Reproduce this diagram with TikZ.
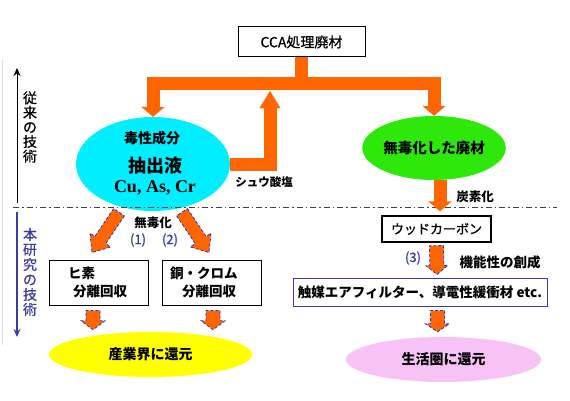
\documentclass[tikz,border=0pt]{standalone}
\usepackage{fontspec}
\setmainfont{Noto Sans CJK JP}
\newfontfamily\jpmed[FakeBold=0.9]{Noto Sans CJK JP}
\newfontfamily\tms{Liberation Serif}
\usetikzlibrary{arrows.meta,calc,shapes.geometric}
\definecolor{org}{RGB}{255,102,0}
\definecolor{cyn}{RGB}{0,238,255}
\definecolor{grn}{RGB}{45,232,10}
\definecolor{ylw}{RGB}{255,255,0}
\definecolor{pnk}{RGB}{247,195,247}
\definecolor{blu}{RGB}{60,60,165}
\definecolor{dblu}{RGB}{50,50,200}
\newcommand{\fsz}[1]{\fontsize{#1}{#1}\selectfont}
\begin{document}
\begin{tikzpicture}[x=1pt,y=-1pt,
  box/.style={draw=black, line width=1pt, rectangle, inner sep=0pt},
  oval/.style={ellipse, inner sep=0pt},
  lbl/.style={inner sep=0pt},
  orangeline/.style={draw=org, line width=13pt},
  fat/.style n args={3}{fill=org, draw=dblu, dash pattern=on 3pt off 2pt, line width=0.8pt,
    to path={let \p1=(\tikztostart), \p2=(\tikztotarget), \p3=($(\p2)!#3!(\p1)$) in
      ($(\p1)!#1!90:(\p2)$) -- ($(\p3)!#1!90:(\p2)$) -- ($(\p3)!#2!90:(\p2)$) -- (\p2)
      -- ($(\p3)!#2!-90:(\p2)$) -- ($(\p3)!#1!-90:(\p2)$) -- ($(\p1)!#1!-90:(\p2)$) -- cycle}},
]
\useasboundingbox (0,0) rectangle (570,401);
% faint frame edge
\coordinate (fe1) at (2.5,60);
\coordinate (fe2) at (2.5,345);
\draw[gray!25, line width=1.5pt] (fe1) -- (fe2);

% nodes
\node[box, minimum width=127pt, minimum height=30pt, font=\jpmed\fsz{14}] (cca) at (301.5,42) {CCA処理廃材};
\node[oval, fill=cyn, minimum width=154pt, minimum height=94pt] (tox) at (153,164) {};
\node[lbl, font=\bfseries\fsz{14}] (toxa) at (152,138) {毒性成分};
\node[lbl, font=\bfseries\fsz{18}] (toxb) at (155,166) {抽出液};
\node[lbl, font=\tms\bfseries\fsz{18}] (toxc) at (155,188) {Cu, As, Cr};
\node[oval, fill=grn, minimum width=142pt, minimum height=64pt, font=\bfseries\fsz{14.5}] (det) at (434,148) {無毒化した廃材};
\node[box, line width=1.3pt, minimum width=109pt, minimum height=26pt, font=\jpmed\fsz{13}] (wood) at (436.5,229) {ウッドカーボン};
\node[box, draw=blu, minimum width=254pt, minimum height=28pt, font=\bfseries\fsz{13.5}] (func) at (420,292) {触媒エアフィルター、導電性緩衝材 etc.};
\node[box, minimum width=99pt, minimum height=45pt, inner xsep=19pt, text width=61pt, align=left,
      font=\bfseries\fontsize{13.5}{18}\selectfont] (ars) at (98.5,282.5) {ヒ素\\\hspace*{5pt}分離回収};
\node[box, minimum width=99pt, minimum height=45pt, inner xsep=8pt, text width=83pt, align=left,
      font=\bfseries\fontsize{13.5}{18}\selectfont] (cop) at (211.5,282.5) {銅・クロム\\\hspace*{12pt}分離回収};
\node[oval, fill=ylw, minimum width=203pt, minimum height=45pt, font=\bfseries\fsz{14}] (ind) at (150.5,354.5) {産業界に還元};
\node[oval, fill=pnk, minimum width=195pt, minimum height=45pt, font=\bfseries\fsz{14}] (life) at (443.5,359.5) {生活圏に還元};

% labels
\node[lbl, font=\bfseries\fsz{11.5}] (oxl) at (264,182) {シュウ酸塩};
\node[lbl, font=\bfseries\fsz{12.5}] (carb) at (475,197) {炭素化};
\node[lbl, font=\bfseries\fsz{12.5}] (detl) at (153,223) {無毒化};
\node[lbl, text=blu, font=\jpmed\fsz{13}] (n1) at (138,240) {(1)};
\node[lbl, text=blu, font=\jpmed\fsz{13}] (n2) at (170,240) {(2)};
\node[lbl, text=blu, font=\jpmed\fsz{13}] (n3) at (413,258) {(3)};
\node[lbl, font=\bfseries\fsz{13.5}] (fnl) at (500,262) {機能性の創成};
\node[lbl, align=center, font=\jpmed\fontsize{14}{14.6}\selectfont] (old) at (30,127) {従\\来\\の\\技\\術};
\node[lbl, text=blu, align=center, font=\jpmed\fontsize{14}{15}\selectfont] (new) at (30,272) {本\\研\\究\\の\\技\\術};

% axis
\coordinate (ax1) at (17,203);
\coordinate (ax2) at (17,68);
\coordinate (ax3) at (17,212);
\coordinate (ax4) at (17,337);
\draw[line width=1pt, -{Stealth[length=8pt,width=7pt]}] (ax1) -- (ax2);
\draw[blu, line width=1.2pt, -{Stealth[length=8pt,width=7pt]}] (ax3) -- (ax4);

% dash-dot separator
\coordinate (dl) at (13,207);
\coordinate (dr) at (557,207);
\draw[black!75, line width=0.6pt, dash pattern=on 6pt off 3pt on 1.5pt off 3pt] (dl) -- (dr);

% orange main connectors
\coordinate (barM) at (299.5,84);
\coordinate (upTip) at (270,90.5);
\draw[orangeline] (cca.south) -- (cca.south |- barM);
\draw[orangeline, line join=miter, {Triangle[width=23pt,length=10pt]}-{Triangle[width=23pt,length=10pt]}]
  (tox.north) |- (barM) -| (det.north);
\draw[orangeline, line join=miter, -{Triangle[width=20pt,length=18pt]}] (tox.east) -| (upTip);
\draw[orangeline, -{Triangle[width=23pt,length=10pt]}] ([xshift=6pt]det.south) -- ([xshift=3.5pt,yshift=4pt]wood.north);

% dashed-outline fat arrows
\draw[fat={6.5pt}{12.5pt}{15pt}] ([xshift=-34pt,yshift=-1pt]tox.south) to ([xshift=-6.5pt,yshift=7pt]ars.north);
\draw[fat={6.5pt}{12.5pt}{15pt}] ([xshift=29pt,yshift=-1pt]tox.south) to ([xshift=-2.5pt,yshift=7pt]cop.north);
\draw[fat={7pt}{12pt}{9pt}] ([xshift=-5.5pt,yshift=-5pt]ars.south) to ([xshift=-57.5pt,yshift=2pt]ind.north);
\draw[fat={7pt}{12pt}{9pt}] ([xshift=1.5pt,yshift=-5pt]cop.south) to ([xshift=62.5pt,yshift=2pt]ind.north);
\draw[fat={7pt}{11pt}{9pt}] ([yshift=-3pt]wood.south) to ([xshift=17pt,yshift=3pt]func.north);
\draw[fat={7pt}{12pt}{8pt}] ([xshift=17.5pt,yshift=-4pt]func.south) to ([xshift=-6pt,yshift=5pt]life.north);
\end{tikzpicture}
\end{document}
